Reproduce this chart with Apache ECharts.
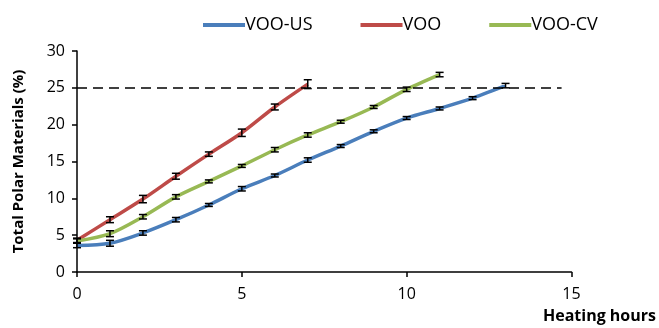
<!DOCTYPE html>
<html>
<head>
<meta charset="utf-8">
<script src="https://cdn.jsdelivr.net/npm/echarts@6/dist/echarts.min.js"></script>
<style>
  html, body { margin: 0; padding: 0; background: #fff; }
  #chart { width: 659px; height: 328px; }
</style>
</head>
<body>
<div id="chart"></div>
<script>
const hoursUS = [0, 1, 2, 3, 4, 5, 6, 7, 8, 9, 10, 11, 12, 13]
const vooUS = [3.6, 3.9, 5.3, 7.1, 9.1, 11.3, 13.1, 15.2, 17.1, 19.1, 20.9, 22.2, 23.6, 25.3]
const errUS = [0.3, 0.4, 0.3, 0.3, 0.2, 0.3, 0.2, 0.3, 0.2, 0.2, 0.2, 0.2, 0.2, 0.3]

const hoursVOO = [0, 1, 2, 3, 4, 5, 6, 7]
const voo = [4.3, 7.1, 9.9, 13.0, 16.0, 18.9, 22.4, 25.5]
const errVOO = [0.3, 0.4, 0.5, 0.4, 0.3, 0.5, 0.4, 0.6]

const hoursCV = [0, 1, 2, 3, 4, 5, 6, 7, 8, 9, 10, 11]
const vooCV = [4.2, 5.2, 7.5, 10.2, 12.3, 14.4, 16.6, 18.6, 20.4, 22.4, 24.8, 26.8]
const errCV = [0.3, 0.4, 0.3, 0.3, 0.2, 0.2, 0.3, 0.3, 0.2, 0.2, 0.3, 0.3]

// dashed reference level and where it stops
const limitTPM = 25
const limitEnd = 14.7

const font = '"Open Sans", "Liberation Sans", sans-serif'

function pairs(xs, ys) {
  return xs.map((x, i) => [x, ys[i]])
}

function errData(xs, ys, es) {
  return xs.map((x, i) => [x, ys[i] - es[i], ys[i] + es[i]])
}

function renderErr(params, api) {
  const x = api.value(0)
  const lo = api.coord([x, api.value(1)])
  const hi = api.coord([x, api.value(2)])
  const w = 4
  const style = { stroke: '#000', lineWidth: 1.5 }
  return {
    type: 'group',
    children: [
      { type: 'line', shape: { x1: lo[0], y1: lo[1], x2: hi[0], y2: hi[1] }, style },
      { type: 'line', shape: { x1: lo[0] - w, y1: lo[1], x2: lo[0] + w, y2: lo[1] }, style },
      { type: 'line', shape: { x1: hi[0] - w, y1: hi[1], x2: hi[0] + w, y2: hi[1] }, style }
    ]
  }
}

function lineSeries(name, data, color) {
  return {
    name,
    type: 'line',
    smooth: 0.3,
    symbol: 'none',
    data,
    z: 2,
    lineStyle: { color, width: 3.5 },
    itemStyle: { color }
  }
}

function errSeries(data) {
  return {
    type: 'custom',
    renderItem: renderErr,
    data,
    z: 3,
    silent: true,
    encode: { x: 0, y: [1, 2] }
  }
}

const chart = echarts.init(document.getElementById('chart'))

chart.setOption({
  animation: false,
  legend: {
    top: 11,
    left: 198,
    itemGap: 48,
    itemWidth: 42,
    itemHeight: 4,
    icon: 'rect',
    textStyle: { fontFamily: font, fontSize: 18, color: '#000', padding: [0, 0, 0, -5] },
    data: ['VOO-US', 'VOO', 'VOO-CV']
  },
  grid: { left: 77, right: 87, top: 51, bottom: 56 },
  xAxis: {
    type: 'value',
    min: 0,
    max: 15,
    interval: 5,
    name: 'Heating hours',
    nameLocation: 'end',
    nameGap: 28,
    nameTextStyle: {
      fontFamily: font, fontSize: 16, fontWeight: 'bold', color: '#000',
      verticalAlign: 'top', padding: [36, 0, 0, 0], align: 'center'
    },
    axisLine: { lineStyle: { color: '#000', width: 1.5 } },
    axisTick: { show: true, length: 5, lineStyle: { color: '#000', width: 1.5 } },
    axisLabel: { fontFamily: font, fontSize: 16, color: '#000', margin: 14 },
    splitLine: { show: false }
  },
  yAxis: {
    type: 'value',
    min: 0,
    max: 30,
    interval: 5,
    name: 'Total Polar Materials (%)',
    nameLocation: 'middle',
    nameGap: 51,
    nameTextStyle: { fontFamily: font, fontSize: 15, fontWeight: 'bold', color: '#000' },
    axisLine: { show: true, lineStyle: { color: '#000', width: 1.5 } },
    axisTick: { show: true, length: 5, lineStyle: { color: '#000', width: 1.5 } },
    axisLabel: { fontFamily: font, fontSize: 16, color: '#000', margin: 12 },
    splitLine: { show: false }
  },
  series: [
    Object.assign(lineSeries('VOO-US', pairs(hoursUS, vooUS), '#4a7ebb'), {
      markLine: {
        silent: true,
        symbol: 'none',
        label: { show: false },
        lineStyle: { color: '#000', type: [10, 6], width: 1.5 },
        data: [[{ coord: [0, limitTPM] }, { coord: [limitEnd, limitTPM] }]]
      }
    }),
    lineSeries('VOO', pairs(hoursVOO, voo), '#be4b48'),
    lineSeries('VOO-CV', pairs(hoursCV, vooCV), '#98b954'),
    errSeries(errData(hoursUS, vooUS, errUS)),
    errSeries(errData(hoursVOO, voo, errVOO)),
    errSeries(errData(hoursCV, vooCV, errCV))
  ]
})
</script>
</body>
</html>
